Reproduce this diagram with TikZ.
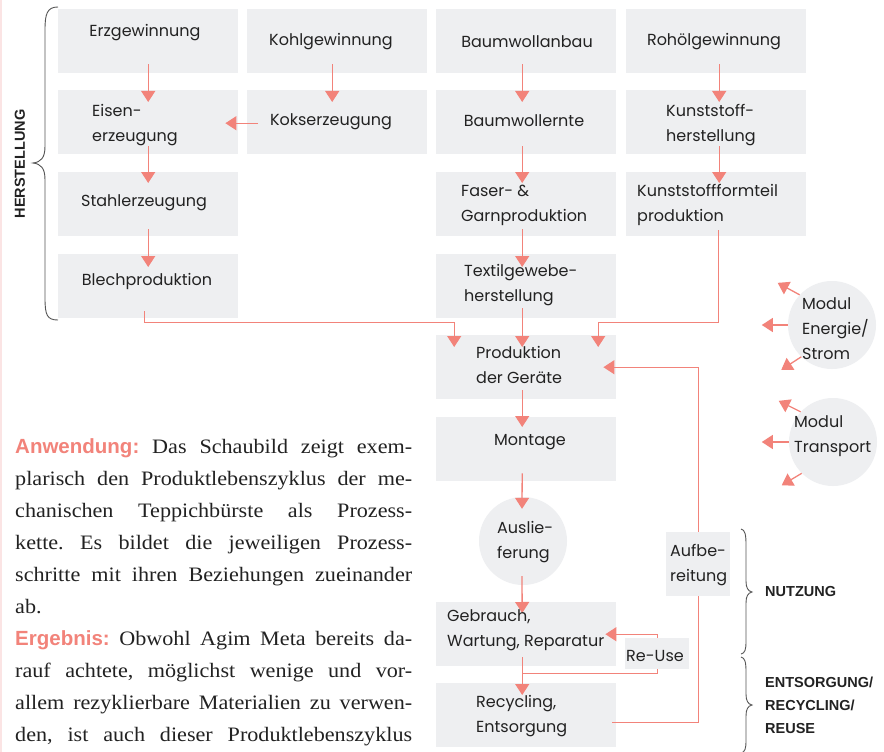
\documentclass[tikz,border=0pt]{standalone}
\usepackage{fontspec}
\usetikzlibrary{arrows.meta}
\setmainfont{Liberation Serif}[FakeStretch=1.08]
\newfontfamily\handfont{Poppins}
\newfontfamily\labelsans{Liberation Sans}
\definecolor{salmon}{HTML}{F2837A}
\definecolor{boxgray}{HTML}{EEEFF1}
\definecolor{bracegray}{HTML}{555555}
\definecolor{ink}{HTML}{222222}
\definecolor{edgepink}{HTML}{FBE4E4}
\newcommand{\leadin}[1]{{\labelsans\bfseries\color{salmon}#1}}
\newcommand{\fullline}[1]{\makebox[397pt][s]{#1}}
\tikzset{
  procbox/.style={fill=boxgray, draw=none, inner sep=0pt, anchor=north west,
    minimum width=180pt, minimum height=64pt},
  smallbox/.style={fill=boxgray, draw=none, inner sep=0pt, anchor=north west},
  roundstep/.style={circle, fill=boxgray, draw=none, inner sep=0pt, minimum size=88pt},
  hand/.style={font=\handfont\fontsize{16}{25}\selectfont, text=ink, inner sep=0pt},
  handl/.style={hand, anchor=west, align=left},
  flow/.style={draw=salmon, line width=1.3pt, -{Triangle[width=14pt,length=11pt]}},
  brace/.style={draw=bracegray, line width=0.9pt},
  phase/.style={font=\labelsans\bfseries\fontsize{14.5}{23}\selectfont, text=ink, inner sep=0pt}
}
\begin{document}
\begin{tikzpicture}[x=1pt,y=-1pt]
\useasboundingbox (0,0) rectangle (884,752);
\fill[white] (0,0) rectangle (884,752);
\fill[edgepink] (0,0) rectangle (2,752);

% process boxes
\node[procbox] (erz) at (58,9) {};
\node[procbox] (kohl) at (247,9) {};
\node[procbox] (baum) at (436,9) {};
\node[procbox] (roh) at (626,9) {};
\node[procbox] (eisen) at (58,90) {};
\node[procbox] (koks) at (247,90) {};
\node[procbox] (ernte) at (436,90) {};
\node[procbox] (kunst) at (626,90) {};
\node[procbox] (stahl) at (58,172) {};
\node[procbox] (faser) at (436,172) {};
\node[procbox] (formteil) at (626,172) {};
\node[procbox] (blech) at (58,254) {};
\node[procbox] (textil) at (436,254) {};
\node[procbox] (prod) at (436,335) {};
\node[procbox] (mont) at (436,417) {};
\node[procbox] (gebr) at (436,602) {};
\node[procbox] (recy) at (436,683) {};
\node[roundstep] (ausl) at (523,541) {};
\node[roundstep] (energie) at (832,325) {};
\node[roundstep] (transp) at (833,442) {};

% material flow
\draw[flow] ([yshift=9pt]erz.south) -- ([yshift=-12pt]eisen.north);
\draw[flow] ([yshift=8pt]eisen.south) -- ([yshift=-11pt]stahl.north);
\draw[flow] ([yshift=7pt]stahl.south) -- ([yshift=-13pt]blech.north);
\draw[flow] ([xshift=-5pt,yshift=9pt]kohl.south) -- ([xshift=-5pt,yshift=-12pt]koks.north);
\draw[flow] ([xshift=11pt,yshift=-1pt]koks.west) -- ([xshift=-13pt,yshift=-1pt]eisen.east);
\draw[flow] ([xshift=-4pt,yshift=9pt]baum.south) -- ([xshift=-4pt,yshift=-12pt]ernte.north);
\draw[flow] ([xshift=-4pt,yshift=8pt]ernte.south) -- ([xshift=-4pt,yshift=-11pt]faser.north);
\draw[flow] ([xshift=-4pt,yshift=7pt]faser.south) -- ([xshift=-4pt,yshift=-13pt]textil.north);
\draw[flow] ([xshift=3pt,yshift=9pt]roh.south) -- ([xshift=3pt,yshift=-12pt]kunst.north);
\draw[flow] ([xshift=3pt,yshift=8pt]kunst.south) -- ([xshift=3pt,yshift=-11pt]formteil.north);
\draw[flow] ([xshift=-4pt,yshift=7pt]blech.south) -- ++(0,11) -| ([xshift=-72pt,yshift=-12pt]prod.north);
\draw[flow] ([xshift=-4pt,yshift=10pt]textil.south) -- ([xshift=-4pt,yshift=-12pt]prod.north);
\draw[flow] ([xshift=2pt,yshift=6pt]formteil.south) -- ++(0,92) -| ([xshift=72pt,yshift=-12pt]prod.north);
\draw[flow] ([xshift=-4pt,yshift=9pt]prod.south) -- ([xshift=-4pt,yshift=-10pt]mont.north);
\draw[flow] ([xshift=-4pt,yshift=8pt]mont.south) -- ([xshift=-1pt,yshift=-12pt]ausl.north);
\draw[flow] ([xshift=-1pt,yshift=9pt]ausl.south) -- ([xshift=-4pt,yshift=-11pt]gebr.north);
\draw[flow] ([xshift=-4pt,yshift=9pt]gebr.south) -- ([xshift=-4pt,yshift=-12pt]recy.north);
\draw[flow] ([xshift=-4pt,yshift=-7pt]gebr.south) -| ([xshift=41pt]gebr.east) -- ([xshift=-11pt]gebr.east);
\draw[flow] ([xshift=-4pt,yshift=-7pt]recy.east) -| ([xshift=82pt]prod.east) -- ([xshift=-13pt]prod.east);

% module influences
\draw[flow] (energie.137) -- ++(-22,-12);
\draw[flow] (energie.west) -- ++(-26,0);
\draw[flow] (energie.226) -- ++(-20,13);
\draw[flow] (transp.137) -- ++(-22,-11);
\draw[flow] (transp.west) -- ++(-27,0);
\draw[flow] (transp.225) -- ++(-20,12);

% boxes that sit on the return lines
\node[smallbox, minimum width=64pt, minimum height=64pt] (aufb) at (666,532) {};
\node[smallbox, minimum width=64pt, minimum height=31pt] (reuse) at (625,638) {};

% labels
\node[hand] (terz) at (145,33) {Erzgewinnung};
\node[hand] (tkohl) at (331,42) {Kohlgewinnung};
\node[hand] (tbaum) at (527,42) {Baumwollanbau};
\node[hand] (troh) at (714,42) {Rohölgewinnung};
\node[handl] (teisen) at (92,125) {Eisen-\\erzeugung};
\node[hand] (tkoks) at (331,122) {Kokserzeugung};
\node[hand] (ternte) at (524,121) {Baumwollernte};
\node[handl] (tkunst) at (666,125) {Kunststoff-\\herstellung};
\node[hand] (tstahl) at (144,203) {Stahlerzeugung};
\node[handl] (tfaser) at (461,205) {Faser- \&\\Garnproduktion};
\node[handl] (tform) at (637,205) {Kunststoffformteil\\produktion};
\node[hand] (tblech) at (147,281) {Blechproduktion};
\node[handl] (ttextil) at (464,285) {Textilgewebe-\\herstellung};
\node[handl] (tprod) at (476,365) {Produktion\\der Geräte};
\node[hand] (tmont) at (530,442) {Montage};
\node[handl] (tausl) at (497,542) {Auslie-\\ferung};
\node[handl] (tgebr) at (447,630) {Gebrauch,\\Wartung, Reparatur};
\node[handl] (trecy) at (476,716) {Recycling,\\Entsorgung};
\node[handl] (taufb) at (670,565) {Aufbe-\\reitung};
\node[hand] (treuse) at (655,656) {Re-Use};
\node[handl] (tenergie) at (802,329) {Modul\\Energie/\\Strom};
\node[handl] (ttransp) at (794,436) {Modul\\Transport};

% phase braces
\draw[brace] (58,7) .. controls (47,7) and (45,14) .. (45,30) -- (45,146)
  .. controls (45,158) and (41,162) .. (33,163) .. controls (41,164) and (45,168) .. (45,180)
  -- (45,298) .. controls (45,315) and (47,320) .. (58,320);
\draw[brace] (741,529) .. controls (745,530) and (746,534) .. (746,545) -- (746,581)
  .. controls (746,588) and (748,591) .. (752,592) .. controls (748,593) and (746,596) .. (746,603)
  -- (746,641) .. controls (746,650) and (745,653) .. (741,654);
\draw[brace] (741,657) .. controls (745,658) and (746,662) .. (746,672) -- (746,694)
  .. controls (746,701) and (748,704) .. (752,705) .. controls (748,706) and (746,709) .. (746,716)
  -- (746,740) .. controls (746,749) and (745,752) .. (741,753);

\node[phase, rotate=90] (herst) at (20,164) {HERSTELLUNG};
\node[phase, anchor=west] (nutz) at (765,592) {NUTZUNG};
\node[phase, anchor=west, align=left] (entsorg) at (765,705) {ENTSORGUNG/\\RECYCLING/\\REUSE};

% explanatory text, each line spread to the full column width
\node[anchor=base west, text width=397pt, inner sep=0pt, align=left, text=ink,
  font=\fontsize{20.5}{32.1}\selectfont] (body) at (15,453) {%
\frenchspacing\spaceskip=0pt \xspaceskip=0pt
\fullline{\leadin{Anwendung:} Das Schaubild zeigt exem-}\\
\fullline{plarisch den Produktlebenszyklus der me-}\\
\fullline{chanischen Teppichbürste als Prozess-}\\
\fullline{kette. Es bildet die jeweiligen Prozess-}\\
\fullline{schritte mit ihren Beziehungen zueinander}\\
ab.\\
\fullline{\leadin{Ergebnis:} Obwohl Agim Meta bereits da-}\\
\fullline{rauf achtete, möglichst wenige und vor-}\\
\fullline{allem rezyklierbare Materialien zu verwen-}\\
\fullline{den, ist auch dieser Produktlebenszyklus}};
\end{tikzpicture}
\end{document}
